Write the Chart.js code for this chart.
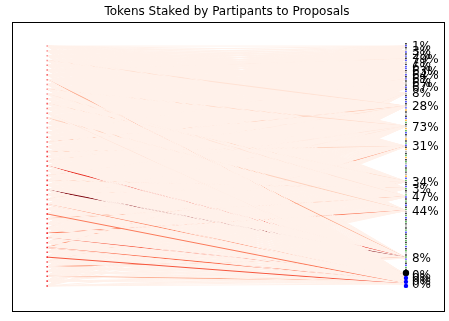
<!DOCTYPE html>
<html>
<head>
<meta charset="utf-8">
<script src="https://cdn.jsdelivr.net/npm/chart.js@4.4.1/dist/chart.umd.min.js"></script>
<style>
  body { margin: 0; background: #fff; }
  #c { display: block; }
</style>
</head>
<body>
<canvas id="c" width="449" height="321"></canvas>
<script>
// participant weights (drives dot colour), top to bottom
const participantWeight = [
    0.3, 0.25, 0.3, 0.35, 0.4, 0.45, 0.5, 0.4, 0.35, 0.3,
    0.3, 0.5, 0.55, 0.45, 0.5, 0.35, 0.4, 0.3, 0.4, 0.6,
    0.5, 0.5, 0.65, 0.7, 0.6, 0.75, 0.55, 0.6, 0.7, 0.8,
    0.75, 0.6, 0.55, 0.65, 0.7, 0.8, 0.6, 0.7, 0.75, 0.8,
    0.8, 0.7, 0.8, 0.65, 0.7, 0.6, 0.7, 0.75, 0.65, 0.7, 0.75
];

// proposals: label and position on the right column (0 = bottom, 100 = top)
const proposalLabels = [
    '1%', '3%', '2%', '79%', '7%', '6%', '63%', '64%', '6%', '6%', '67%', '8%',
    '28%', '73%', '31%', '34%', '3%', '47%', '44%', '8%',
    '0%', '0%', '0%', '0%'
];
const proposalRank = [
    100, 97.9, 96.2, 94.6, 92.9, 91.2, 89.5, 87.9, 86.2, 84.5, 82.8, 80.3,
    74.9, 66.5, 58.2, 43.5, 40.6, 37.2, 31.4, 11.7,
    4.6, 3.3, 2.1, 0.8
];

// [participant, proposal, share of stake]
const stakes = [
    [3, 12, 0.12], [9, 13, 0.14], [12, 15, 0.16], [15, 18, 0.18], [22, 14, 0.16],
    [28, 16, 0.2], [48, 22, 0.3], [20, 12, 0.22], [7, 19, 0.3], [36, 17, 0.3],
    [42, 14, 0.35], [46, 19, 0.35], [33, 21, 0.4], [39, 18, 0.45], [35, 23, 0.45],
    [42, 22, 0.5], [40, 20, 0.55], [44, 23, 0.55], [25, 19, 0.65], [30, 19, 0.95],
    [5, 3, 0.08], [18, 8, 0.08], [27, 13, 0.1], [31, 15, 0.1], [38, 11, 0.08],
    [10, 17, 0.1], [14, 20, 0.1], [24, 12, 0.12], [32, 13, 0.1], [45, 15, 0.12]
];

// right column markers (k black, b blue, g green, o orange, a grey)
const columnColours =
    'kbkabkbkbakbbkabkbkakbkbakbkbkab' +
    'okakbogkaogbkaokgbkoakgo' +
    'kgabkgkaobgkkbgkagbk' +
    'gkbkgakgbkgkakgbkgkg' +
    'kgbkgakgbgkbgkg';

const markerColour = { k: '#000000', b: '#1f1fff', g: '#2ca02c', o: '#ffa500', a: '#999999' };

const REDS = ['#fff5f0', '#fee0d2', '#fcbba1', '#fc9272', '#fb6a4a', '#ef3b2c', '#cb181d', '#a50f15', '#67000d'];
function reds(t) {
    const p = Math.max(0, Math.min(1, t)) * (REDS.length - 1);
    const i = Math.min(Math.floor(p), REDS.length - 2);
    const f = p - i;
    const a = REDS[i], b = REDS[i + 1];
    const c = k => Math.round(parseInt(a.substr(k, 2), 16) * (1 - f) + parseInt(b.substr(k, 2), 16) * f);
    return `rgb(${c(1)}, ${c(3)}, ${c(5)})`;
}

const n = participantWeight.length;
const participantRank = participantWeight.map((w, i) => 100 - i * 100 / (n - 1));

const stakeOf = {};
stakes.forEach(([p, q, v]) => { stakeOf[p + ':' + q] = v; });

// every participant is linked to every proposal, drawn proposal by proposal
const links = [];
const linkColour = [];
proposalRank.forEach((qy, q) => {
    participantRank.forEach((py, p) => {
        links.push({ x: 0, y: py }, { x: 1, y: qy }, { x: null, y: null });
        const v = stakeOf[p + ':' + q];
        linkColour.push(v === undefined ? '#fff1ea' : reds(v));
    });
});

const columnPoints = columnColours.split('').map((ch, i, arr) => ({
    x: 1, y: 101 - i * 95 / (arr.length - 1)
}));

const frame = {
    id: 'frame',
    afterDraw(chart) {
        const { ctx, chartArea: a, scales } = chart;
        ctx.save();
        ctx.strokeStyle = '#000';
        ctx.lineWidth = 1;
        ctx.strokeRect(Math.round(a.left) + 0.5, Math.round(a.top) + 0.5,
            Math.round(a.right - a.left), Math.round(a.bottom - a.top));
        ctx.fillStyle = '#000';
        ctx.font = '12px "DejaVu Sans"';
        ctx.textAlign = 'center';
        ctx.textBaseline = 'middle';
        ctx.fillText('Tokens Staked by Partipants to Proposals', 227, 12);
        ctx.textAlign = 'left';
        const x = scales.x.getPixelForValue(1) + 6;
        proposalLabels.forEach((t, i) => {
            ctx.fillText(t, x, scales.y.getPixelForValue(proposalRank[i]) + 1);
        });
        ctx.restore();
    }
};

new Chart(document.getElementById('c'), {
    type: 'scatter',
    data: {
        datasets: [
            {
                data: links,
                showLine: true,
                spanGaps: false,
                borderColor: '#fff1ea',
                borderWidth: 1,
                pointRadius: 0,
                segment: {
                    borderColor: ctx => linkColour[Math.floor(ctx.p0DataIndex / 3)]
                },
                order: 100
            },
            {
                data: participantRank.map(y => ({ x: 0, y })),
                pointStyle: 'rect',
                pointRadius: 1.1,
                borderWidth: 0,
                backgroundColor: participantWeight.map(w => `rgba(240, 10, 20, ${Math.min(1, w + 0.1)})`),
                order: 2
            },
            {
                data: columnPoints,
                pointStyle: 'rect',
                pointRadius: 1,
                borderWidth: 0,
                backgroundColor: columnColours.split('').map(ch => markerColour[ch]),
                order: 1
            },
            {
                data: [{ x: 1, y: 5.4 }, { x: 1, y: 3.3 }, { x: 1, y: 1.7 }, { x: 1, y: 0 }],
                pointRadius: [3.2, 2.2, 2.2, 2.2],
                borderWidth: 0,
                backgroundColor: ['#000000', '#0000ff', '#0000ff', '#0000ff'],
                order: 0
            }
        ]
    },
    options: {
        responsive: false,
        animation: false,
        events: [],
        layout: { padding: { left: 12, right: 5, top: 22, bottom: 10 } },
        scales: {
            x: { type: 'linear', display: false, min: -0.098, max: 1.106 },
            y: { type: 'linear', display: false, min: -10.46, max: 110.04 }
        },
        plugins: {
            legend: { display: false },
            tooltip: { enabled: false }
        }
    },
    plugins: [frame]
});
</script>
</body>
</html>
